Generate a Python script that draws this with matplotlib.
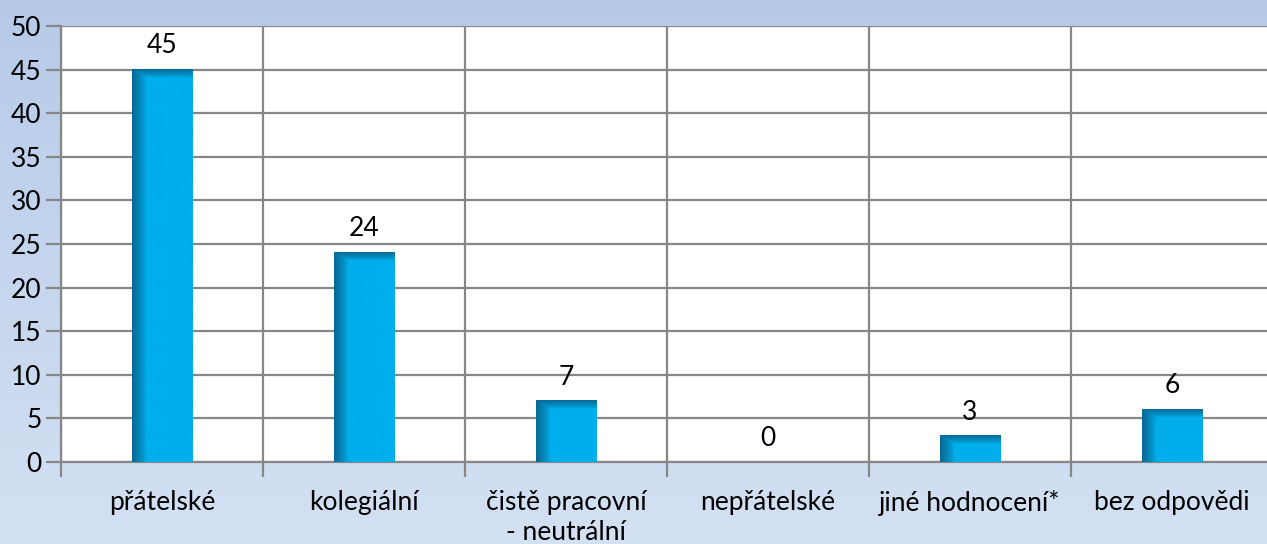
import numpy as np
import matplotlib.pyplot as plt
from matplotlib.colors import to_rgb

plt.rcParams['font.family'] = ['Lato', 'DejaVu Sans']

# data
categories = ['přátelské', 'kolegiální', 'čistě pracovní\n- neutrální',
              'nepřátelské', 'jiné hodnocení*', 'bez odpovědi']
values = [45, 24, 7, 0, 3, 6]

bar_col = '#00aeeb'
dark_col = '#0a6690'
grid_col = '#878787'
fs = 19

fig = plt.figure(figsize=(12.67, 5.44), dpi=100)

# background gradient
bg = fig.add_axes([0, 0, 1, 1], zorder=-10)
top = np.array(to_rgb('#b6cae8'))
bot = np.array(to_rgb('#d4e1f3'))
t = np.linspace(0, 1, 256)[:, None]
grad = top * (1 - t) + bot * t
bg.imshow(grad[:, None, :].repeat(2, axis=1), aspect='auto', extent=[0, 1, 0, 1])
bg.axis('off')

ax = fig.add_axes([61 / 1267, 1 - 462 / 544, (1273 - 61) / 1267, (462 - 26) / 544])
ax.set_facecolor('white')

x = np.arange(len(categories))
w = 0.3
bars = ax.bar(x, values, width=w, color=bar_col, zorder=3)

# bevel shading on each bar
base = np.array(to_rgb(bar_col))
dark = np.array(to_rgb(dark_col))
for xi, v in zip(x, values):
    if v <= 0:
        continue
    npx_h = max(int(v / 50 * 436), 2)
    npx_w = 60
    cols = np.arange(npx_w)[None, :]
    rows = np.arange(npx_h)[:, None]
    left = np.clip(1 - cols / 14.0, 0, 1) ** 0.8
    topf = np.clip(1 - rows / 8.0, 0, 1) ** 0.8
    f = np.maximum(left * 0.95, topf * 0.9)
    img = base[None, None, :] * (1 - f[..., None]) + dark[None, None, :] * f[..., None]
    ax.imshow(img, aspect='auto', extent=[xi - w / 2, xi + w / 2, 0, v],
              origin='upper', zorder=4, interpolation='bilinear')

for xi, v in zip(x, values):
    ax.text(xi, v + 1.3, str(v), ha='center', va='bottom', fontsize=fs, zorder=5)

ax.set_xlim(-0.5, len(categories) - 0.5)
ax.set_ylim(0, 50)
ax.set_yticks(np.arange(0, 51, 5))
ax.yaxis.grid(True, color=grid_col, linewidth=1.6, zorder=1)

# category boundaries
ax.set_xticks(np.arange(-0.5, len(categories), 1.0))
ax.set_xticklabels([])
ax.xaxis.grid(True, color=grid_col, linewidth=1.6, zorder=1)
ax.set_xticks(x, minor=True)
ax.set_xticklabels(categories, minor=True, fontsize=fs, linespacing=1.25)
ax.tick_params(axis='x', which='minor', length=0, pad=20)
ax.tick_params(axis='x', which='major', length=11, width=1.6, color=grid_col)
ax.tick_params(axis='y', length=11, width=1.6, color=grid_col, labelsize=fs, pad=3)

for s in ['top', 'right']:
    ax.spines[s].set_visible(False)
for s in ['left', 'bottom']:
    ax.spines[s].set_color(grid_col)
    ax.spines[s].set_linewidth(1.6)
ax.set_axisbelow(True)

fig.savefig('out.png', dpi=100)
